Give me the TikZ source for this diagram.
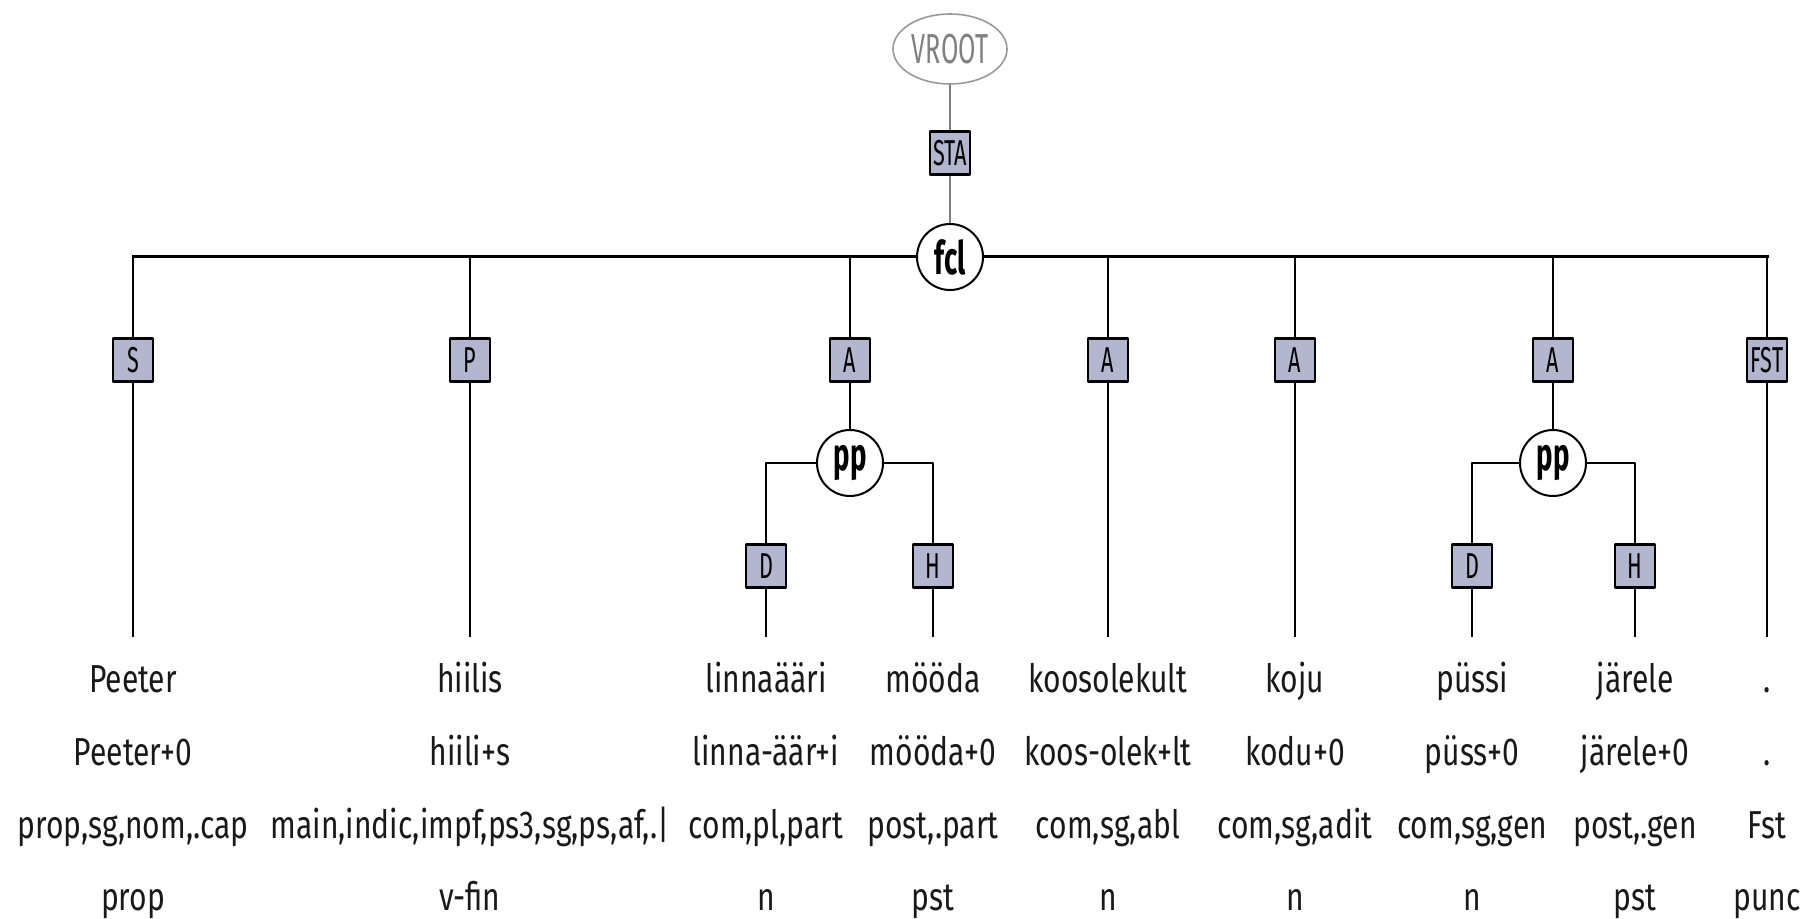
\documentclass[tikz,border=0pt]{standalone}
\usepackage{fontspec}
\setmainfont{Fira Sans}[FakeStretch=0.77]
\newfontfamily\labfont{Fira Sans}[FakeStretch=0.6]
\usetikzlibrary{shapes.geometric}
\definecolor{funcfill}{RGB}{178,182,206}
\definecolor{rootgray}{RGB}{128,128,128}
\begin{document}
\begin{tikzpicture}[line join=round, x=0.5pt, y=-0.5pt,
    func/.style={draw, line width=1.2pt, fill=funcfill, minimum width=20pt, minimum height=21.5pt, inner sep=0pt, font=\labfont\fontsize{18}{18}\selectfont},
    cat/.style={circle, draw, line width=1pt, fill=white, minimum size=33pt, inner sep=0pt, font=\labfont\fontsize{23}{23}\selectfont\bfseries},
    leaf/.style={font=\fontsize{19.5}{20}\selectfont, text=black!90, inner sep=0pt, anchor=base},
    edge/.style={line width=1pt},
    bar/.style={line width=1.5pt, line cap=rect}]
    \useasboundingbox (0,0) rectangle (1805,919);
    % root and sentence node
    \node[ellipse, draw=rootgray!80, line width=0.8pt, text=rootgray, minimum width=57pt, minimum height=35pt, inner sep=0pt, font=\labfont\fontsize{21}{21}\selectfont] (vroot) at (950,49) {VROOT};
    \node[func] (sta) at (950,153) {STA};
    \node[cat] (fcl) at (950,257) {fcl};
    \draw[rootgray, line width=0.7pt] (vroot) -- (sta) -- (fcl);
    % functions under fcl
    \foreach \n/\x/\t in {s/133/S, p/470/P, a1/850/A, a2/1108/A, a3/1295/A, a4/1553/A, fst/1767/FST}
        \node[func] (\n) at (\x,360) {\t};
    \draw[bar] (fcl.west) -- (fcl.west -| s.north);
    \draw[bar] (fcl.east) -- (fcl.east -| fst.north);
    \foreach \n in {s,p,a1,a2,a3,a4,fst}
        \draw[edge] (\n.north |- fcl.center) -- (\n.north);
    % the two pp groups
    \foreach \i/\n/\xa/\xd/\xh in {1/a1/850/766/933, 2/a4/1553/1472/1635} {
        \node[cat] (pp\i) at (\xa,463) {pp};
        \node[func] (d\i) at (\xd,566) {D};
        \node[func] (h\i) at (\xh,566) {H};
        \draw[edge] (\n) -- (pp\i);
        \draw[edge] (pp\i.west) -| (d\i.north);
        \draw[edge] (pp\i.east) -| (h\i.north);
    }
    % words
    \foreach \n/\x/\w/\l/\m/\c in {
        s/133/Peeter/Peeter+0/{prop,sg,nom,.cap}/prop,
        p/470/hiilis/hiili+s/{main,indic,impf,ps3,sg,ps,af,.|}/v-fin,
        d1/766/linnaääri/linna-äär+i/{com,pl,part}/n,
        h1/933/mööda/mööda+0/{post,.part}/pst,
        a2/1108/koosolekult/koos-olek+lt/{com,sg,abl}/n,
        a3/1295/koju/kodu+0/{com,sg,adit}/n,
        d2/1472/püssi/püss+0/{com,sg,gen}/n,
        h2/1635/järele/järele+0/{post,.gen}/pst,
        fst/1767/././Fst/punc} {
        \node[leaf, text height=27.5pt] (\n-w) at (\x,692) {\w};
        \node[leaf] (\n-l) at (\x,765) {\l};
        \node[leaf] (\n-m) at (\x,838) {\m};
        \node[leaf] (\n-c) at (\x,910) {\c};
        \draw[edge] (\n.south) -- (\n-w.north);
    }
\end{tikzpicture}
\end{document}
